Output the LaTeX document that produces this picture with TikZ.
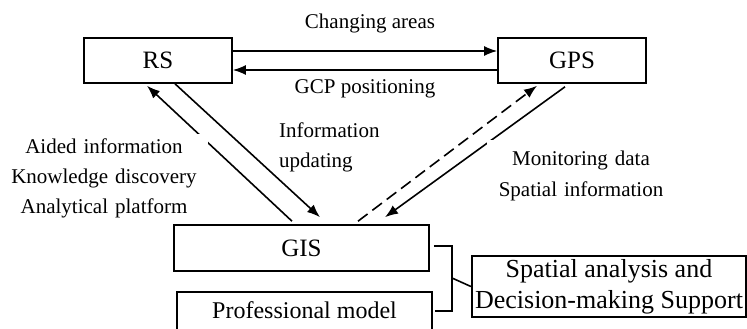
\documentclass[tikz,border=0pt]{standalone}
\usepackage{fontspec}
\setmainfont{Liberation Serif}
\usetikzlibrary{arrows.meta}
\begin{document}
\begin{tikzpicture}
    \def\dx{1pt}
    \def\dy{1pt}

    \tikzstyle{box}=[draw=black,line width=1.6pt,align=center,font=\fontsize{25}{31}\selectfont]
    \tikzstyle{label}=[inner sep=4pt,font=\fontsize{21}{30}\selectfont]
    \tikzstyle{fwd}=[draw=black,line width=1.6pt,-{Latex[length=13pt,width=10pt]}]
    \tikzstyle{link}=[draw=black,line width=1.6pt]

    \useasboundingbox (0,0) rectangle (747*\dx,-329*\dy);

    \node[box,minimum width=148pt,minimum height=45pt]  (rs) at (158*\dx,-60.5*\dy) {RS};
    \node[box,minimum width=148pt,minimum height=45pt]  (gps) at (572*\dx,-60.5*\dy) {GPS};
    \node[box,minimum width=255pt,minimum height=46pt]  (gis) at (301.5*\dx,-248*\dy) {GIS};
    \node[box,minimum width=255pt,inner ysep=4pt,text height=23pt,text depth=40pt,anchor=north,
          font=\fontsize{24}{30}\selectfont]  (prof) at (304.5*\dx,-291*\dy) {Professional model};
    \node[box,minimum width=272pt,minimum height=61pt,font=\fontsize{26}{31}\selectfont]  (sa) at (609*\dx,-286.5*\dy) {Spatial analysis and\\ Decision-making Support};

    \coordinate (jtop) at (452*\dx,-246*\dy);
    \coordinate (jmid) at (452*\dx,-278*\dy);
    \coordinate (jbot) at (452*\dx,-311*\dy);

          \draw [fwd] ([yshift=9.5*\dy]rs.east) -- ([yshift=9.5*\dy]gps.west);
          \draw [fwd] ([yshift=-9.5*\dy]gps.west) -- ([yshift=-9.5*\dy]rs.east);
          \draw [fwd] ([shift={(-9.5*\dx,3*\dy)}]gis.north) -- ([shift={(-11*\dx,-2*\dy)}]rs.south);
          \draw [fwd] ([xshift=17*\dx]rs.south) -- ([shift={(18.5*\dx,7*\dy)}]gis.north);
          \draw [fwd,dash pattern=on 12pt off 6pt] ([shift={(56.5*\dx,3*\dy)}]gis.north) -- ([shift={(-35*\dx,-2*\dy)}]gps.south);
          \draw [fwd] ([shift={(-7*\dx,-3*\dy)}]gps.south) -- ([shift={(83.5*\dx,7*\dy)}]gis.north);

          \draw [link] (gis.east |- jtop) ++(4*\dx,0) -- (jtop) -- (jbot) -- ++(-17*\dx,0);
          \draw [link] (jmid) -- (sa.west);

    \node[label,anchor=base]  (chg) at (370*\dx,-29*\dy) {Changing areas};
    \node[label,anchor=base]  (gcp) at (365*\dx,-93*\dy) {GCP positioning};
    \node[label,inner sep=0pt,text width=120pt,align=left,anchor=base west]  (upd) at (279*\dx,-137*\dy) {Information\\ updating};
    \node[label,fill=white,text width=200pt,align=center,anchor=base]  (aid) at (104*\dx,-153*\dy) {Aided information\\ Knowledge discovery\\ Analytical platform};
    \node[label,fill=white,inner ysep=10pt,text width=180pt,align=center,anchor=base]  (mon) at (581*\dx,-165*\dy) {Monitoring data\\[1pt] Spatial information};

  \end{tikzpicture}
\end{document}
